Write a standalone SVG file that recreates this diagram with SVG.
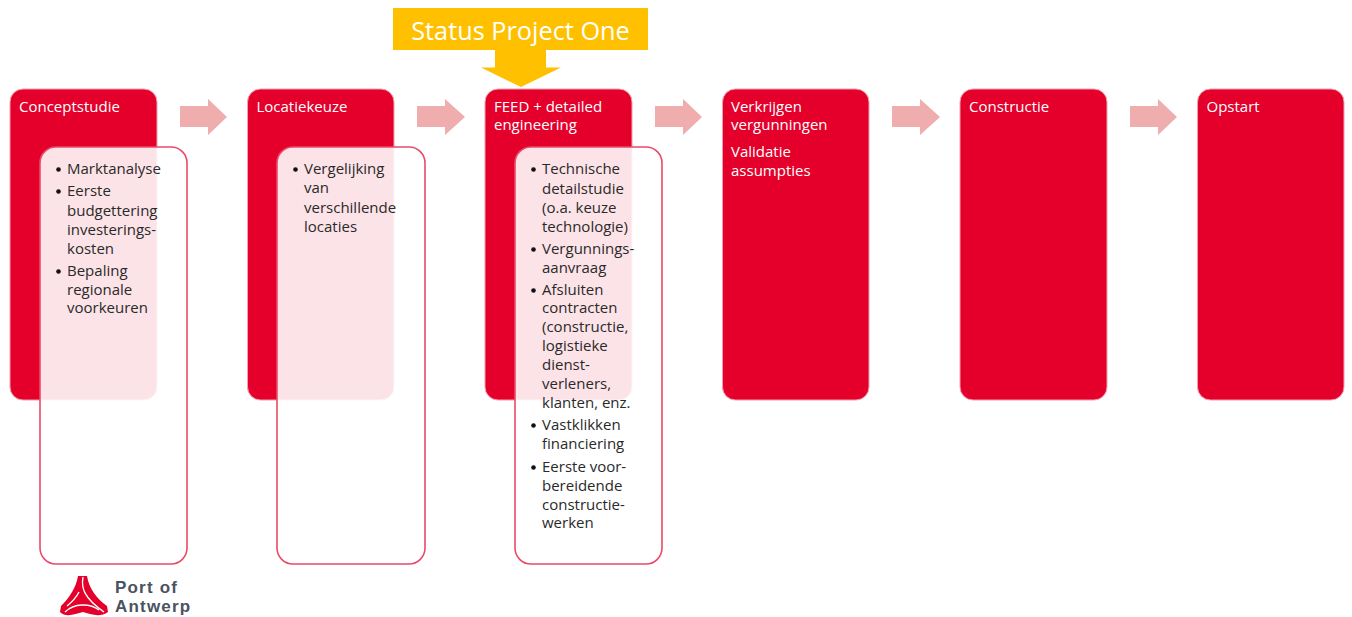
<svg xmlns="http://www.w3.org/2000/svg" width="1352" height="617" viewBox="0 0 1352 617">
<style>
text{font-family:"Open Sans","Noto Sans","Liberation Sans",sans-serif}
.phase{fill:#e4002b;stroke:#f4a0ae;stroke-width:1}
.title{fill:#fff;font-size:15px}
.detail{fill:#fff;fill-opacity:.89;stroke:#ea4a68;stroke-width:1.6}
.body{fill:#2a2a2a;font-size:15px}
.bul{fill:#111}
.arrow{fill:#efadad}
.logotext{font-family:"Liberation Sans",sans-serif;font-size:17px;font-weight:700;letter-spacing:1.2px;fill:#4a5360}
.cut{fill:none;stroke:#fff;stroke-width:1.4}
</style>
<rect width="1352" height="617" fill="#fff"/>
<g id="connectors">
<path class="arrow" d="M180 106H208V99L227 117L208 135V127H180Z"/>
<path class="arrow" d="M417 106H445V99L465 117L445 135V127H417Z"/>
<path class="arrow" d="M655 106H683V99L702 117L683 135V127H655Z"/>
<path class="arrow" d="M892 106H920V99L940 117L920 135V127H892Z"/>
<path class="arrow" d="M1130 106H1158V99L1177 117L1158 135V127H1130Z"/>
</g>
<g id="status">
<path fill="#ffc000" d="M393 8H648V50H546V67.500L561 67.500L521 87L481 67.500L495 67.500V50H393Z"/>
<text x="520.500" y="40" text-anchor="middle" fill="#fff" style="font-size:25.300px">Status Project One</text>
</g>
<g id="conceptstudie">
<rect class="phase" x="10" y="89" width="147" height="311" rx="13"/>
<text class="title" x="19" y="112">Conceptstudie</text>
<rect class="detail" x="40" y="147" width="147" height="417" rx="16"/>
<g class="body">
<circle class="bul" cx="58.500" cy="169.500" r="2.300"/><text x="67" y="174">Marktanalyse</text>
<circle class="bul" cx="58.500" cy="191.500" r="2.300"/><text x="67" y="196">Eerste</text>
<text x="67" y="216">budgettering</text>
<text x="67" y="235">investerings-</text>
<text x="67" y="254">kosten</text>
<circle class="bul" cx="58.500" cy="271.500" r="2.300"/><text x="67" y="276">Bepaling</text>
<text x="67" y="295">regionale</text>
<text x="67" y="313">voorkeuren</text>
</g>
</g>
<g id="locatiekeuze">
<rect class="phase" x="247.500" y="89" width="146.500" height="311" rx="13"/>
<text class="title" x="256.500" y="112">Locatiekeuze</text>
<rect class="detail" x="277" y="147" width="148" height="417" rx="16"/>
<g class="body">
<circle class="bul" cx="295.500" cy="169.500" r="2.300"/><text x="304" y="174">Vergelijking</text>
<text x="304" y="193">van</text>
<text x="304" y="213">verschillende</text>
<text x="304" y="232">locaties</text>
</g>
</g>
<g id="feed">
<rect class="phase" x="485" y="89" width="147" height="311" rx="13"/>
<text class="title" x="494" y="112">FEED + detailed</text>
<text class="title" x="494" y="130">engineering</text>
<rect class="detail" x="515" y="147" width="147" height="417" rx="16"/>
<g class="body">
<circle class="bul" cx="533.500" cy="169.500" r="2.300"/><text x="542" y="174">Technische</text>
<text x="542" y="194">detailstudie</text>
<text x="542" y="213">(o.a. keuze</text>
<text x="542" y="232">technologie)</text>
<circle class="bul" cx="533.500" cy="249.500" r="2.300"/><text x="542" y="254">Vergunnings-</text>
<text x="542" y="273">aanvraag</text>
<circle class="bul" cx="533.500" cy="290.500" r="2.300"/><text x="542" y="295">Afsluiten</text>
<text x="542" y="313">contracten</text>
<text x="542" y="332">(constructie,</text>
<text x="542" y="351">logistieke</text>
<text x="542" y="370">dienst-</text>
<text x="542" y="389">verleners,</text>
<text x="542" y="408">klanten, enz.</text>
<circle class="bul" cx="533.500" cy="425.500" r="2.300"/><text x="542" y="430">Vastklikken</text>
<text x="542" y="449">financiering</text>
<circle class="bul" cx="533.500" cy="467.500" r="2.300"/><text x="542" y="472">Eerste voor-</text>
<text x="542" y="491">bereidende</text>
<text x="542" y="510">constructie-</text>
<text x="542" y="528">werken</text>
</g>
</g>
<g id="vergunningen">
<rect class="phase" x="722.500" y="89" width="146.500" height="311" rx="13"/>
<text class="title" x="731" y="112">Verkrijgen</text>
<text class="title" x="731" y="130">vergunningen</text>
<text class="title" x="731" y="157">Validatie</text>
<text class="title" x="731" y="176">assumpties</text>
</g>
<g id="constructie">
<rect class="phase" x="960" y="89" width="147" height="311" rx="13"/>
<text class="title" x="969" y="112">Constructie</text>
</g>
<g id="opstart">
<rect class="phase" x="1197.500" y="89" width="146.500" height="311" rx="13"/>
<text class="title" x="1206.500" y="112">Opstart</text>
</g>
<g id="logo">
<path fill="#e4002b" d="M78 576H87C89 588 96 598 107 606L108 612C100 618 90 614 83 612C75 614 66 618 60 612L61 606C69 598 76 588 78 576Z"/>
<path class="cut" d="M83 577C81 588 84 598 104 612"/>
<path class="cut" d="M79 592C76 598 72 602 67 606"/>
<path class="cut" d="M65 612C74 603 90 603 99 610"/>
<text class="logotext" x="115" y="593">Port of</text>
<text class="logotext" x="115" y="612">Antwerp</text>
</g>
</svg>
